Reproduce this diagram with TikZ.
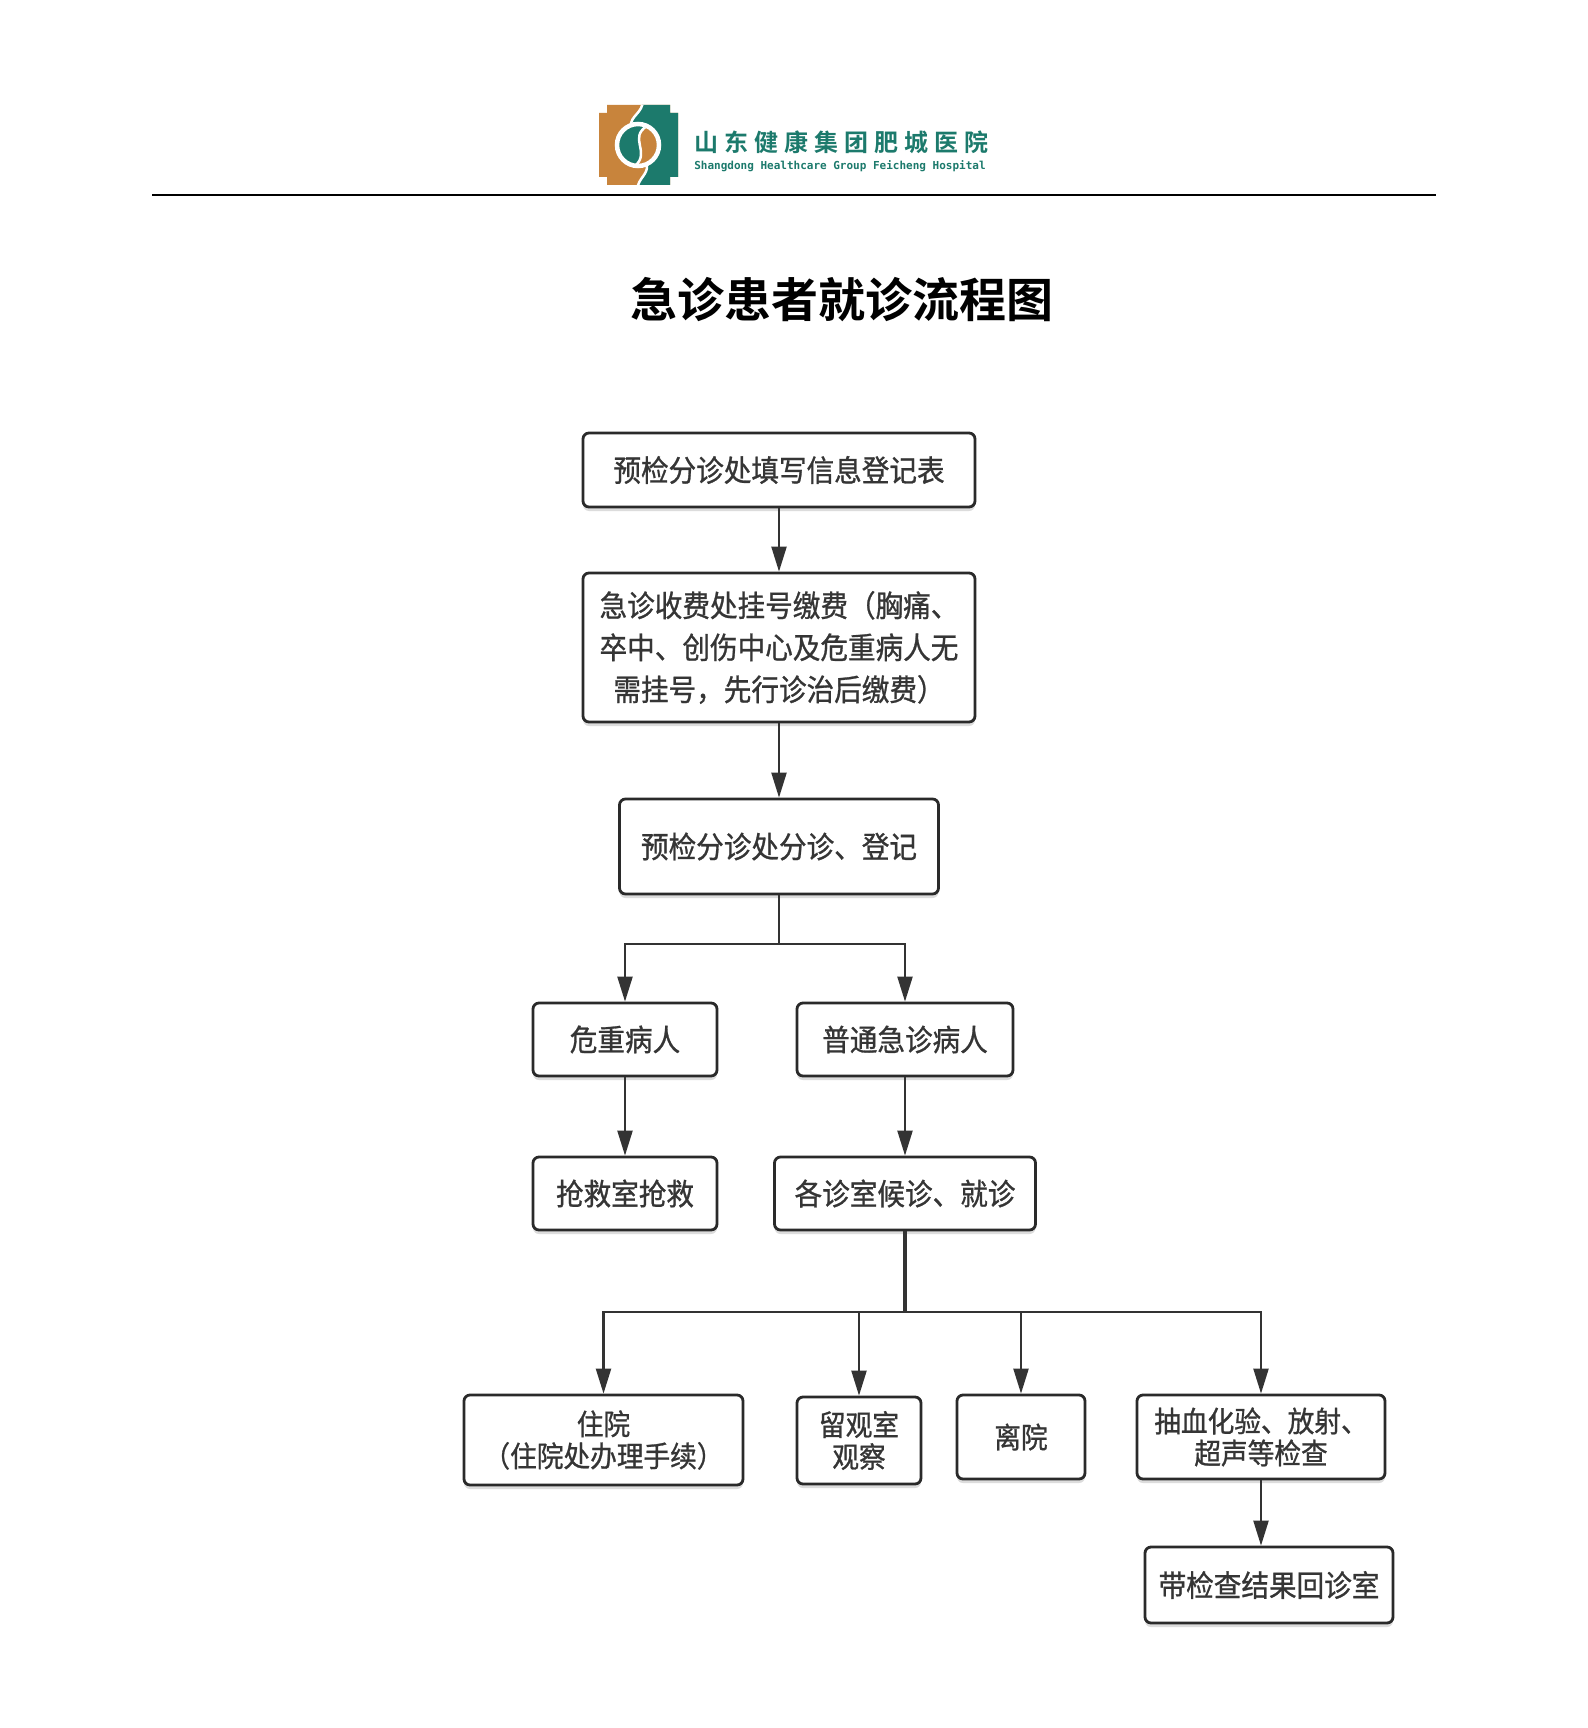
\documentclass[tikz,border=0pt]{standalone}
\usepackage{fontspec}
\usetikzlibrary{arrows.meta,shadows}
\newfontfamily\cjk[FakeStretch=0.92,FakeBold=0.9]{Noto Sans CJK SC}
\newfontfamily\cjkb{Noto Sans CJK SC Bold}
\newfontfamily\cjkblogo[LetterSpace=25]{Noto Sans CJK SC Bold}
\newfontfamily\monob{DejaVu Sans Mono Bold}
\definecolor{lorange}{HTML}{C8843C}
\definecolor{lteal}{HTML}{1C7A6C}
\definecolor{linec}{HTML}{333333}
\definecolor{boxc}{HTML}{2A2A2A}
\definecolor{textc}{HTML}{353535}
\tikzset{
  flowbox/.style={draw=boxc, line width=2.8pt, rounded corners=6pt, fill=white,
    inner sep=0pt, align=center, text=textc,
    drop shadow={shadow xshift=0pt, shadow yshift=-4pt, fill=black!30, opacity=0.45}},
  bigtext/.style={font=\cjk\fontsize{30}{42}\selectfont},
  smalltext/.style={font=\cjk\fontsize{29}{32}\selectfont},
  conn/.style={draw=linec, line width=2.2pt},
  arrowconn/.style={conn, -{Triangle[length=25pt,width=15pt]}},
}
\begin{document}
\begin{tikzpicture}[x=1pt,y=-1pt]
\useasboundingbox (0,0) rectangle (1587,1728);
\fill[white] (0,0) rectangle (1587,1728);

% ---- logo ----
\begin{scope}
\clip (607,105) -- (670,105) -- (670,113) -- (678,113) -- (678,177) -- (670,177) -- (670,185) -- (607,185) -- (607,177) -- (599,177) -- (599,113) -- (607,113) -- cycle;
\fill[lorange] (590,100) rectangle (690,190);
\fill[lteal] (643,100) .. controls (643,113) and (630,116) .. (631,126) -- (647,165) .. controls (648,175) and (638,178) .. (637,190) -- (690,190) -- (690,100) -- cycle;
\draw[white, line width=2.5pt] (643,100) .. controls (643,113) and (630,116) .. (631,126);
\draw[white, line width=2.5pt] (647,165) .. controls (648,175) and (638,178) .. (637,190);
\begin{scope}
\clip (638,145) circle (19);
\fill[lorange] (638,145) circle (20);
\fill[lteal] (647,126) .. controls (628,138) and (651,152) .. (635,166) -- (610,166) -- (610,126) -- cycle;
\draw[white, line width=2.5pt] (647,126) .. controls (628,138) and (651,152) .. (635,166);
\end{scope}
\draw[white, line width=4.5pt] (638,145) circle (21);
\end{scope}
\node[font=\cjkblogo\fontsize{24}{24}\selectfont, text=lteal, inner sep=0pt] (logotext) at (841,142) {山东健康集团肥城医院};
\node[font=\monob\fontsize{11}{11}\selectfont, text=lteal, inner sep=0pt] (logoen) at (840,166) {Shangdong Healthcare Group Feicheng Hospital};
\coordinate (hl) at (152,195);
\coordinate (hr) at (1436,195);
\draw[black, line width=2pt] (hl) -- (hr);

% ---- title ----
\node[font=\cjkb\fontsize{47}{47}\selectfont, text=black, inner sep=0pt] (title) at (842,300) {急诊患者就诊流程图};

% ---- boxes ----
\node[flowbox, bigtext, minimum width=392pt, minimum height=74pt] (b1) at (779,470) {预检分诊处填写信息登记表};
\node[flowbox, bigtext, minimum width=392pt, minimum height=149pt] (b2) at (779,647.5) {急诊收费处挂号缴费（胸痛、\\卒中、创伤中心及危重病人无\\需挂号，先行诊治后缴费）};
\node[flowbox, bigtext, minimum width=319pt, minimum height=95pt] (b3) at (779,846.5) {预检分诊处分诊、登记};
\node[flowbox, bigtext, minimum width=184pt, minimum height=73pt] (b4) at (625,1039.5) {危重病人};
\node[flowbox, bigtext, minimum width=216pt, minimum height=73pt] (b5) at (905,1039.5) {普通急诊病人};
\node[flowbox, bigtext, minimum width=184pt, minimum height=73pt] (b6) at (625,1193.5) {抢救室抢救};
\node[flowbox, bigtext, minimum width=261pt, minimum height=73pt] (b7) at (905,1193.5) {各诊室候诊、就诊};
\node[flowbox, smalltext, minimum width=279pt, minimum height=90pt] (b8) at (603.5,1440) {住院\\（住院处办理手续）};
\node[flowbox, smalltext, minimum width=124pt, minimum height=87pt] (b9) at (859,1440.5) {留观室\\观察};
\node[flowbox, smalltext, minimum width=128pt, minimum height=84pt] (b10) at (1021,1437) {离院};
\node[flowbox, smalltext, minimum width=248pt, minimum height=84pt] (b11) at (1261,1437) {抽血化验、放射、\\超声等检查};
\node[flowbox, bigtext, minimum width=248pt, minimum height=76pt] (b12) at (1269,1585) {带检查结果回诊室};

% ---- connectors ----
\draw[arrowconn] (b1.south) -- (b2.north);
\draw[arrowconn] (b2.south) -- (b3.north);
\coordinate (j1) at (779,944);
\draw[conn] (b3.south) -- (j1);
\draw[arrowconn] (j1) -| (b4.north);
\draw[arrowconn] (j1) -| (b5.north);
\draw[arrowconn] (b4.south) -- (b6.north);
\draw[arrowconn] (b5.south) -- (b7.north);
\coordinate (j2) at (905,1312);
\draw[conn, line width=3.2pt] (b7.south) -- (j2);
\draw[arrowconn] (j2) -| (b8.north);
\draw[arrowconn] (j2) -| (b9.north);
\draw[arrowconn] (j2) -| (b10.north);
\draw[arrowconn] (j2) -| (b11.north);
\draw[arrowconn] (b11.south) -- (b11.south |- b12.north);
\end{tikzpicture}
\end{document}
